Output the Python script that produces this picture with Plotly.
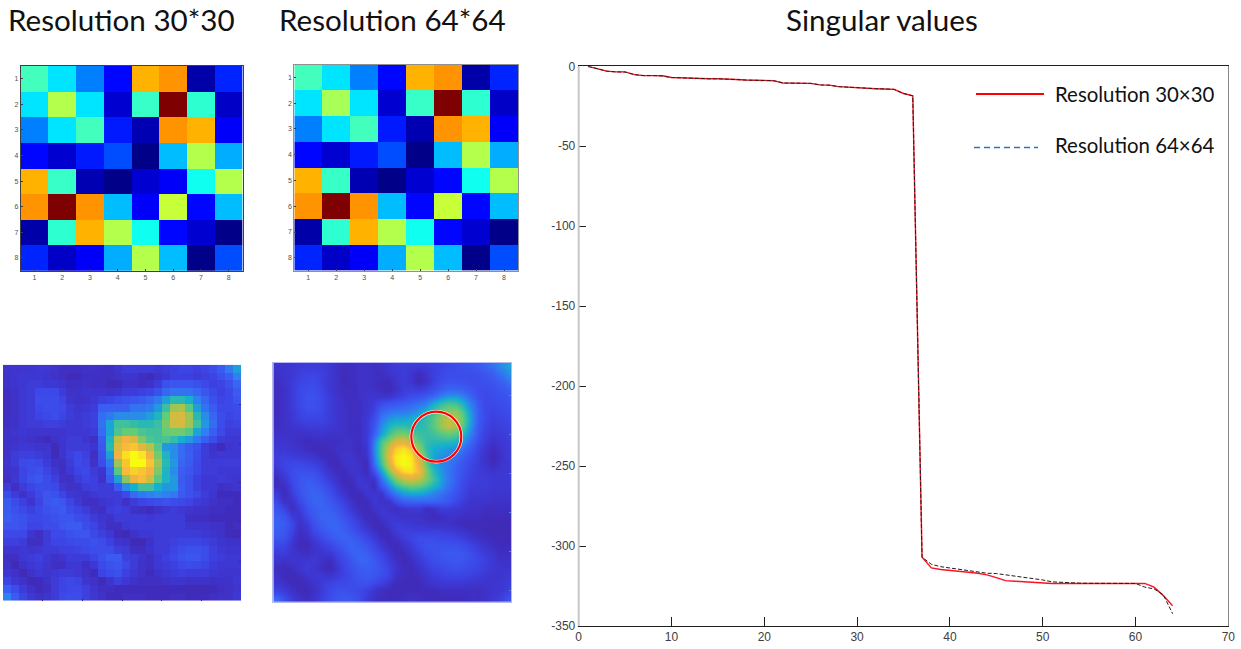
import plotly.graph_objects as go

W, H = 1241, 649

matrix_ticks = [1, 2, 3, 4, 5, 6, 7, 8]
matrix_30 = [
    [.44, .35, .25, .13, .70, .73, .04, .16],
    [.35, .55, .35, .08, .43, 1.0, .42, .07],
    [.25, .35, .44, .15, .05, .73, .70, .12],
    [.13, .08, .15, .20, .01, .31, .55, .295],
    [.70, .43, .05, .01, .08, .12, .39, .55],
    [.73, 1.0, .73, .31, .12, .57, .13, .31],
    [.04, .42, .70, .55, .39, .13, .08, .01],
    [.16, .07, .12, .295, .55, .31, .01, .20],
]
matrix_64 = [
    [.44, .35, .25, .13, .70, .73, .04, .16],
    [.35, .54, .35, .08, .43, 1.0, .42, .07],
    [.25, .35, .44, .15, .05, .73, .70, .12],
    [.13, .08, .15, .20, .01, .31, .55, .295],
    [.70, .43, .05, .01, .08, .13, .39, .55],
    [.73, 1.0, .73, .31, .13, .57, .13, .31],
    [.04, .42, .70, .55, .39, .13, .08, .01],
    [.16, .07, .12, .295, .55, .31, .01, .20],
]

image_30 = [
    [10,10,10,10,12,12,10,6,6,6,8,8,6,6,10,14,14,14,14,12,14,16,18,18,16,18,22,28,38,45],
    [8,10,12,12,12,10,8,6,4,4,6,6,6,6,8,10,10,6,3,8,12,16,16,16,14,16,18,24,30,40],
    [8,10,12,14,14,12,12,10,6,6,8,6,6,3,4,8,8,6,8,14,24,26,26,26,24,20,16,18,24,32],
    [6,8,12,14,20,20,20,14,8,8,10,10,10,8,10,14,14,16,18,24,32,36,36,36,32,26,20,16,20,28],
    [5,8,12,14,22,22,22,18,10,8,8,12,16,18,22,24,26,28,32,38,45,52,52,48,40,32,24,18,20,26],
    [5,8,12,14,20,22,22,20,14,10,12,14,30,30,30,30,36,36,38,44,55,70,72,60,45,36,28,20,20,22],
    [6,8,12,14,18,20,22,18,14,12,14,16,34,38,42,42,42,42,45,50,62,78,80,70,52,42,32,22,18,20],
    [6,8,12,14,14,16,16,14,12,12,14,16,36,46,56,56,54,52,52,55,65,78,80,70,56,44,34,22,16,18],
    [8,10,12,10,10,10,10,10,12,12,12,14,34,46,58,62,62,58,56,56,62,64,64,60,46,40,30,20,14,14],
    [8,8,10,8,6,4,8,10,14,14,10,6,28,50,75,85,80,66,58,56,58,54,48,44,38,30,22,14,12,12],
    [8,10,12,12,10,10,3,10,14,14,14,10,26,52,80,88,90,82,74,60,44,42,34,28,24,14,8,4,10,12],
    [8,14,16,16,14,12,4,10,16,20,16,6,24,45,85,95,100,96,85,65,50,42,34,30,22,14,10,12,12,12],
    [10,14,20,22,20,14,8,6,14,20,18,8,22,38,70,90,100,100,90,70,52,44,32,28,20,14,14,14,14,14],
    [8,10,18,22,24,18,12,6,12,18,20,14,10,32,60,88,92,90,86,66,50,42,30,26,20,14,14,12,12,12],
    [6,12,18,24,26,22,16,8,6,14,18,16,8,28,45,68,84,88,78,60,50,44,28,24,16,12,12,14,12,10],
    [14,6,14,18,22,22,20,12,8,8,14,16,14,14,28,42,48,56,56,48,44,44,30,24,16,12,12,6,8,10],
    [22,14,8,14,20,26,24,18,12,10,8,12,14,14,14,20,34,38,40,42,40,38,28,24,20,14,10,4,4,4],
    [28,22,16,10,18,26,28,26,18,12,6,6,10,12,14,8,14,18,20,22,24,22,20,18,14,12,8,6,6,4],
    [28,24,20,16,20,24,26,28,22,18,14,8,6,14,16,14,8,6,4,8,12,14,12,10,8,8,6,6,4,4],
    [30,26,24,20,20,22,24,26,26,22,20,14,10,8,14,14,14,14,12,14,14,14,14,6,6,6,4,4,4,4],
    [26,26,24,18,18,22,22,26,28,28,22,18,12,6,6,12,14,14,14,14,14,14,14,10,10,10,8,8,2,6],
    [20,20,20,10,6,14,20,20,24,26,26,20,16,12,4,2,8,12,12,14,14,14,14,14,14,12,10,8,4,2],
    [16,16,14,6,6,14,18,18,20,22,22,24,22,16,10,8,2,2,8,14,14,16,18,18,18,16,14,10,8,8],
    [10,10,12,10,12,14,14,16,16,18,20,22,22,22,16,14,6,6,10,14,14,18,22,24,24,22,16,12,10,10],
    [6,6,12,14,16,12,8,10,14,14,14,18,24,28,28,16,14,10,6,12,16,20,24,26,26,22,16,14,12,12],
    [8,2,8,12,14,10,6,6,12,12,6,12,20,24,26,20,14,8,6,12,14,16,20,22,20,18,14,12,12,12],
    [12,8,2,8,12,10,12,14,14,12,8,4,18,22,24,16,12,8,4,8,12,14,16,14,14,14,12,10,10,10],
    [18,12,8,2,4,8,14,18,20,18,10,8,3,10,16,12,8,6,6,6,8,10,10,8,8,8,6,8,8,12],
    [30,22,14,8,4,6,14,18,20,20,16,10,6,6,4,4,4,4,4,4,4,4,4,2,2,2,4,6,8,10],
    [40,28,18,12,8,10,14,20,22,22,16,12,8,4,4,6,6,6,4,4,4,6,6,4,4,4,6,8,8,12],
]

image_64 = [
    [10,10,12,14,14,14,14,12,8,5,6,8,8,6,8,12,14,14,14,14,14,16,18,20,22,24,26,28,32,36,42,46],
    [8,10,12,16,18,18,16,12,8,4,6,8,8,6,6,10,12,14,10,4,10,16,20,22,22,22,22,24,26,30,36,42],
    [6,10,14,18,20,20,16,12,8,4,5,8,8,6,4,4,10,14,10,3,8,16,22,24,24,24,22,22,24,26,30,36],
    [5,8,14,20,22,22,18,12,8,5,5,8,8,8,4,3,8,14,16,14,16,22,28,32,32,30,26,22,22,24,26,30],
    [5,8,14,20,24,24,20,14,10,6,5,8,10,10,10,10,14,18,22,24,28,34,40,44,44,40,32,24,20,22,24,26],
    [4,8,14,20,24,24,20,14,10,8,5,6,10,14,22,26,28,30,32,36,40,48,54,58,56,50,40,28,20,20,22,24],
    [4,8,12,18,22,22,20,14,10,8,6,6,10,18,32,36,38,38,40,44,50,56,64,68,68,58,44,30,20,18,20,22],
    [5,8,12,16,18,18,18,14,10,8,6,6,12,22,38,44,46,46,48,50,54,60,70,76,74,62,46,30,20,16,18,20],
    [6,8,10,12,14,14,14,12,10,8,5,6,12,26,42,50,54,54,52,52,54,60,70,76,72,60,44,28,18,14,16,18],
    [8,8,8,8,8,10,10,8,8,8,6,6,12,30,46,56,64,66,60,56,54,56,60,62,60,52,40,26,16,12,14,16],
    [10,10,8,6,4,5,6,6,6,8,8,6,12,38,58,68,80,82,72,60,54,52,52,52,50,44,34,22,14,8,12,14],
    [12,12,10,8,6,4,3,5,8,8,8,4,10,40,60,80,92,96,90,70,54,48,46,44,42,36,28,18,10,4,10,14],
    [14,16,14,14,12,10,5,3,6,10,10,6,8,38,60,84,97,100,97,80,58,46,42,40,36,30,22,16,8,2,8,14],
    [14,18,20,20,18,16,12,5,3,8,10,8,4,34,56,78,96,100,98,84,62,48,42,38,32,26,20,14,10,4,10,12],
    [10,16,22,24,24,22,16,10,4,4,10,10,4,24,46,66,84,94,96,88,68,52,44,38,30,24,18,14,12,10,12,12],
    [4,12,20,26,28,26,22,14,8,3,6,12,8,8,36,52,66,76,80,76,66,56,46,38,30,22,16,14,14,12,12,12],
    [5,6,18,26,30,30,26,20,12,5,3,10,12,4,26,40,52,58,62,60,56,50,44,36,28,20,14,14,14,12,12,12],
    [14,4,14,24,30,32,30,24,16,10,4,3,10,10,10,28,38,44,46,46,44,40,36,30,24,18,12,12,12,10,10,10],
    [20,8,8,20,28,32,32,28,22,16,8,3,4,12,8,8,22,30,32,32,32,32,30,26,20,14,10,10,10,8,8,8],
    [26,18,6,14,24,30,32,30,26,20,12,6,3,8,12,8,6,10,12,12,6,8,14,14,12,10,8,8,6,6,6,6],
    [30,26,14,10,20,28,32,32,30,24,18,10,4,3,10,12,10,8,8,8,6,4,6,8,8,6,6,6,4,4,4,4],
    [32,28,20,8,14,24,30,32,32,28,22,16,8,3,4,12,14,14,12,10,10,8,8,8,6,4,3,3,3,2,2,3],
    [30,26,18,6,10,20,26,30,32,30,26,20,14,8,3,5,14,16,16,16,16,16,16,14,12,10,6,4,3,2,2,2],
    [26,24,14,4,6,14,20,26,30,32,30,26,20,14,6,3,8,14,18,22,22,22,20,20,18,16,12,8,6,4,3,2],
    [20,18,10,4,3,10,14,18,24,28,32,30,26,20,12,6,3,8,14,20,24,24,24,24,24,22,18,14,10,6,4,4],
    [14,14,10,8,6,10,10,12,18,24,30,32,30,24,18,10,4,4,10,16,22,24,26,28,28,26,22,18,14,10,6,6],
    [10,8,10,10,12,12,8,4,14,20,26,32,32,28,22,14,8,3,6,12,18,22,24,26,26,26,22,20,16,12,8,8],
    [6,3,6,10,14,10,6,3,10,18,24,28,30,28,24,18,10,5,4,8,14,18,20,22,24,22,20,18,14,12,10,10],
    [8,4,3,6,10,12,12,10,14,18,22,26,28,26,22,18,8,6,3,6,10,14,16,18,18,18,16,14,12,10,10,12],
    [12,8,4,3,6,10,14,18,20,20,22,24,24,20,16,10,4,3,3,4,8,10,12,12,12,12,10,10,10,10,12,14],
    [18,14,8,4,3,8,14,20,24,24,22,20,16,10,6,3,3,4,4,4,4,4,6,6,6,6,6,6,8,10,12,16],
    [34,22,14,8,6,10,16,22,26,28,26,22,14,8,5,4,3,6,8,6,4,3,3,4,4,4,6,6,8,12,16,24],
]

sv_index = list(range(1, 65))
sv_30 = [0,-1.7,-3,-3.5,-3.5,-5.2,-5.8,-5.8,-5.9,-7,-7.3,-7.4,-7.7,-7.8,-7.8,-7.9,-8.3,-8.6,-8.7,-8.8,
         -9,-10.4,-10.5,-10.6,-10.7,-11.6,-11.8,-12.7,-13.1,-13.4,-13.8,-14,-14.2,-14.4,-17,-18.5,
         -307,-313.7,-314.7,-315.4,-315.8,-316.4,-317,-318,-319.7,-321.6,-322,-322.4,-322.8,-323.2,
         -323.4,-323.4,-323.4,-323.4,-323.4,-323.4,-323.4,-323.4,-323.4,-323.4,-323.4,-325.7,-331,-337.3]
sv_64 = [0,-1.7,-3,-3.5,-3.6,-5.2,-5.8,-5.8,-6,-7,-7.3,-7.4,-7.7,-7.8,-7.8,-7.9,-8.3,-8.6,-8.7,-8.8,
         -9,-10.4,-10.5,-10.6,-10.7,-11.6,-11.8,-12.7,-13.1,-13.4,-13.8,-14,-14.2,-14.4,-17,-18.5,
         -307,-311.4,-312.9,-313.7,-314.5,-315.4,-316.4,-317,-317.2,-318,-318.7,-319.5,-320.3,-321.2,
         -322.4,-322.8,-323,-323.2,-323.3,-323.4,-323.4,-323.4,-323.4,-323.4,-325.7,-326.8,-330.5,-342.3]
x_ticks = [0, 10, 20, 30, 40, 50, 60, 70]
y_ticks = [0, -50, -100, -150, -200, -250, -300, -350]
y_tick_labels = ["0", "-50", "-100", "-150", "-200", "-250", "-300", "-350"]

titles = ["Resolution 30*30", "Resolution 64*64", "Singular values"]
legend_labels = ["Resolution 30×30", "Resolution 64×64"]

for g, n in ((image_30, 30), (image_64, 32)):
    assert len(g) == n and all(len(r) == n for r in g), [len(r) for r in g]
assert len(sv_30) == 64 and len(sv_64) == 64

jet = [[0, "#00007F"], [.125, "#0000FF"], [.375, "#00FFFF"], [.625, "#FFFF00"], [.875, "#FF0000"], [1, "#7F0000"]]
soft = [[0, "#3F2AB0"], [.04, "#3F2CBC"], [.12, "#3D38D4"], [.2, "#3C48E8"], [.3, "#3A5EF2"], [.4, "#2F80F0"],
        [.48, "#14B0CE"], [.62, "#62CC78"], [.75, "#C0C040"], [.86, "#F8B040"], [1, "#F8FB10"]]


def dx(a, b):
    return [a / W, b / W]


def dy(top, bottom):
    return [1 - bottom / H, 1 - top / H]


fig = go.Figure()

# jet matrices
for i, (z, xd, yd, lc) in enumerate([
    (matrix_30, (20.7, 242.5), (66, 270.7), "#404040"),
    (matrix_64, (294.3, 518), (64.5, 270.7), "#909090"),
], start=1):
    fig.add_trace(go.Heatmap(z=z, x=matrix_ticks, y=matrix_ticks, colorscale=jet, zmin=0, zmax=1,
                             showscale=False, xaxis=f"x{i}", yaxis=f"y{i}"))
    common = dict(tickvals=matrix_ticks, ticks="inside", ticklen=2, tickcolor="#404040", mirror=True,
                  showline=True, linecolor=lc, linewidth=1, showgrid=False, zeroline=False, automargin=False,
                  tickfont=dict(family="Liberation Sans", size=7, color="#505050"))
    fig.layout[f"xaxis{i}"] = dict(domain=dx(*xd), range=[.5, 8.5], anchor=f"y{i}", **common)
    fig.layout[f"yaxis{i}"] = dict(domain=dy(*yd), range=[8.5, .5], anchor=f"x{i}", **common)

# blurred images
fig.add_trace(go.Heatmap(z=image_30[::-1], x0=.5, dx=1, y0=.5, dy=1, colorscale=soft, zmin=0, zmax=100,
                         showscale=False, xaxis="x3", yaxis="y3"))
fig.add_trace(go.Heatmap(z=image_64[::-1], x0=.5, dx=1, y0=.5, dy=1, colorscale=soft, zmin=0, zmax=100,
                         showscale=False, zsmooth="best", xaxis="x4", yaxis="y4"))
fig.layout.xaxis3 = dict(domain=dx(3, 241), range=[0, 30], anchor="y3", side="bottom", tickvals=[5, 10, 15, 20, 25],
                         ticks="inside", ticklen=2, tickcolor="#303060", showticklabels=False, showgrid=False,
                         zeroline=False, automargin=False)
fig.layout.yaxis3 = dict(domain=dy(364.7, 600.7), range=[0, 30], anchor="x3", side="right",
                         tickvals=[5, 10, 15, 20, 25], ticks="inside", ticklen=2, tickcolor="#303060",
                         showticklabels=False, showgrid=False, zeroline=False, automargin=False)
fig.layout.xaxis4 = dict(domain=dx(273.3, 511.3), range=[0, 32], anchor="y4", showticklabels=False, showgrid=False,
                         zeroline=False, showline=True, linecolor="#B8B8F0", linewidth=1, mirror=True, automargin=False)
fig.layout.yaxis4 = dict(domain=dy(362.7, 602), range=[0, 32], anchor="x4", side="right",
                         tickvals=[1.6, 6.8, 12, 17.2, 22.4, 27.6], ticks="inside", ticklen=2,
                         tickcolor="#5080D0", showticklabels=False, showgrid=False, zeroline=False,
                         showline=True, linecolor="#B8B8F0", linewidth=1, mirror=True, automargin=False)

# singular value curves
fig.add_trace(go.Scatter(x=sv_index, y=sv_30, mode="lines", line=dict(color="#FF1020", width=1.4),
                         xaxis="x5", yaxis="y5", showlegend=False, cliponaxis=False))
fig.add_trace(go.Scatter(x=sv_index, y=sv_64, mode="lines", line=dict(color="#202020", width=1, dash="4px,2px"),
                         xaxis="x5", yaxis="y5", showlegend=False, cliponaxis=False))
tick_font = dict(family="Liberation Sans Narrow, Liberation Sans", size=12, color="#404040")
fig.layout.xaxis5 = dict(domain=dx(578.7, 1228.3), range=[0, 70], anchor="y5", tickvals=x_ticks, ticks="inside",
                         ticklen=9, tickcolor="#202020", showline=True, linecolor="#202020", linewidth=1, mirror=True,
                         showgrid=False, zeroline=False, tickfont=tick_font, automargin=False)
fig.layout.yaxis5 = dict(domain=dy(66.3, 626), range=[-350, 0], anchor="x5", tickvals=y_ticks, ticktext=y_tick_labels,
                         ticks="inside", ticklen=7, tickcolor="#202020", showline=True, linecolor="#888888",
                         linewidth=1, mirror=True, showgrid=False, zeroline=False, tickfont=tick_font, automargin=False)

annotations = []
for text, cx in zip(titles, (121.5, 392.5, 882)):
    annotations.append(dict(text=text, x=cx / W, y=1 - 20 / H, xref="paper", yref="paper", xanchor="center",
                            yanchor="middle", showarrow=False, font=dict(family="Lato", size=29.6, color="#111111")))
for text, cy in zip(legend_labels, (93.5, 144.5)):
    annotations.append(dict(text=text, x=1053 / W, y=1 - cy / H, xref="paper", yref="paper", xanchor="left",
                            yanchor="middle", showarrow=False, font=dict(family="Lato", size=20.4, color="#111111")))
fig.update_layout(annotations=annotations)

shapes = [
    dict(type="line", xref="paper", yref="paper", x0=976 / W, x1=1044 / W, y0=1 - 94 / H, y1=1 - 94 / H,
         line=dict(color="#FF0000", width=2)),
    dict(type="line", xref="paper", yref="paper", x0=974 / W, x1=1038 / W, y0=1 - 147.5 / H, y1=1 - 147.5 / H,
         line=dict(color="#2E75B6", width=1.5, dash="6px,4px")),
    dict(type="line", xref="paper", yref="paper", x0=578.7 / W, x1=578.7 / W, y0=1 - 626 / H, y1=1 - 66.3 / H,
         line=dict(color="#C8C8C8", width=2)),
]
# red ring with a white halo, in the axis units of the 64*64 image
cx4, cy4 = (436.3 - 273.3) / 238 * 32, (602 - 436.7) / 239.3 * 32
rx, ry = 25 / 238 * 32, 25 / 239.3 * 32
for col, wid in (("#FFFFFF", 3.4), ("#FF0000", 2.2)):
    shapes.append(dict(type="circle", xref="x4", yref="y4", x0=cx4 - rx, x1=cx4 + rx, y0=cy4 - ry, y1=cy4 + ry,
                       line=dict(color=col, width=wid)))
fig.update_layout(shapes=shapes, width=W, height=H, autosize=False,
                  margin=dict(l=0, r=0, t=0, b=0, pad=0, autoexpand=False),
                  paper_bgcolor="white", plot_bgcolor="white", showlegend=False)

fig.write_html("out.html", config={"displayModeBar": False},
               post_script="document.body.style.margin='0';document.body.style.overflow='hidden';")
